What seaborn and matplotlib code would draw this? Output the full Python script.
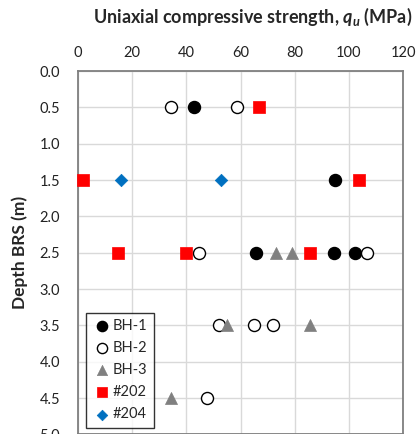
import matplotlib
matplotlib.use("Agg")
import matplotlib.pyplot as plt
import seaborn as sns
import pandas as pd

# Uniaxial compressive strength test results by borehole
series_names = ["BH-1", "BH-2", "BH-3", "#202", "#204"]

bh1_depth = [0.5, 1.5, 2.5, 2.5, 2.5]
bh1_qu = [42.8, 95.0, 65.7, 94.5, 102.4]

bh2_depth = [0.5, 0.5, 2.5, 2.5, 3.5, 3.5, 3.5, 4.5]
bh2_qu = [34.3, 58.7, 44.6, 106.6, 52.1, 65.1, 72.1, 47.7]

bh3_depth = [2.5, 2.5, 3.5, 3.5, 4.5]
bh3_qu = [73.1, 79.1, 55.1, 85.7, 34.3]

s202_depth = [0.5, 1.5, 1.5, 2.5, 2.5, 2.5]
s202_qu = [66.7, 1.7, 103.6, 14.6, 39.8, 85.7]

s204_depth = [1.5, 1.5]
s204_qu = [15.9, 52.8]

x_ticks = [0, 20, 40, 60, 80, 100, 120]
y_ticks = [0.0, 0.5, 1.0, 1.5, 2.0, 2.5, 3.0, 3.5, 4.0, 4.5, 5.0]

frames = []
for name, d, q in zip(series_names,
                      [bh1_depth, bh2_depth, bh3_depth, s202_depth, s204_depth],
                      [bh1_qu, bh2_qu, bh3_qu, s202_qu, s204_qu]):
    frames.append(pd.DataFrame({"series": name, "depth": d, "qu": q}))
df = pd.concat(frames, ignore_index=True)

sns.set_style("white")
plt.rcParams["font.family"] = ["Lato", "DejaVu Sans"]
plt.rcParams["mathtext.fontset"] = "custom"
plt.rcParams["mathtext.it"] = "Lato:bold:italic"
plt.rcParams["mathtext.rm"] = "Lato:bold"

fig = plt.figure(figsize=(4.19, 4.34), dpi=100)
ax = fig.add_axes([78 / 419, -0.001, 325 / 419, 0.8374])

styles = {
    "BH-1": dict(marker="o", facecolor="black", edgecolor="black", s=75, linewidth=1.0),
    "BH-2": dict(marker="o", facecolor="white", edgecolor="black", s=75, linewidth=1.0),
    "BH-3": dict(marker="^", facecolor="#808080", edgecolor="#808080", s=75, linewidth=0.5),
    "#202": dict(marker="s", facecolor="#ff0000", edgecolor="#ff0000", s=72, linewidth=0.5),
    "#204": dict(marker="D", facecolor="#0070c0", edgecolor="#0070c0", s=40, linewidth=0.5),
}

for i, name in enumerate(series_names):
    sub = df[df["series"] == name]
    st = styles[name]
    sns.scatterplot(data=sub, x="qu", y="depth", ax=ax, marker=st["marker"],
                    color=st["facecolor"], edgecolor=st["edgecolor"],
                    s=st["s"], linewidth=st["linewidth"], label=name,
                    zorder=3 + i, clip_on=False)

ax.set_xlim(0, 120)
ax.set_ylim(5.0, 0.0)
ax.set_xticks(x_ticks)
ax.set_yticks(y_ticks)
ax.set_yticklabels([f"{v:.1f}" for v in y_ticks])
ax.xaxis.tick_top()
ax.xaxis.set_label_position("top")
ax.tick_params(axis="both", length=0, labelsize=10.5, colors="#222222", pad=8)
ax.tick_params(axis="y", pad=13)
ax.grid(True, color="#d9d9d9", linewidth=1.0, zorder=0)
ax.set_axisbelow(True)
for sp in ax.spines.values():
    sp.set_color("#7f7f7f")
    sp.set_linewidth(1.3)

ax.set_xlabel("")
ax.set_ylabel("Depth BRS (m)", fontsize=12.5, fontweight="bold", labelpad=8)
fig.text(0.602, 0.961, r"Uniaxial compressive strength, $q_u$ (MPa)",
         ha="center", va="center", fontsize=13, fontweight="bold")

leg = ax.legend(loc="lower left", bbox_to_anchor=(0.025, 0.018), borderaxespad=0,
                frameon=True, fancybox=False, fontsize=10.5, handletextpad=0.05,
                labelspacing=0.55, borderpad=0.45, handlelength=1.3, markerscale=0.85)
leg.get_frame().set_edgecolor("black")
leg.get_frame().set_linewidth(1.0)

fig.savefig("out.png", dpi=100)
